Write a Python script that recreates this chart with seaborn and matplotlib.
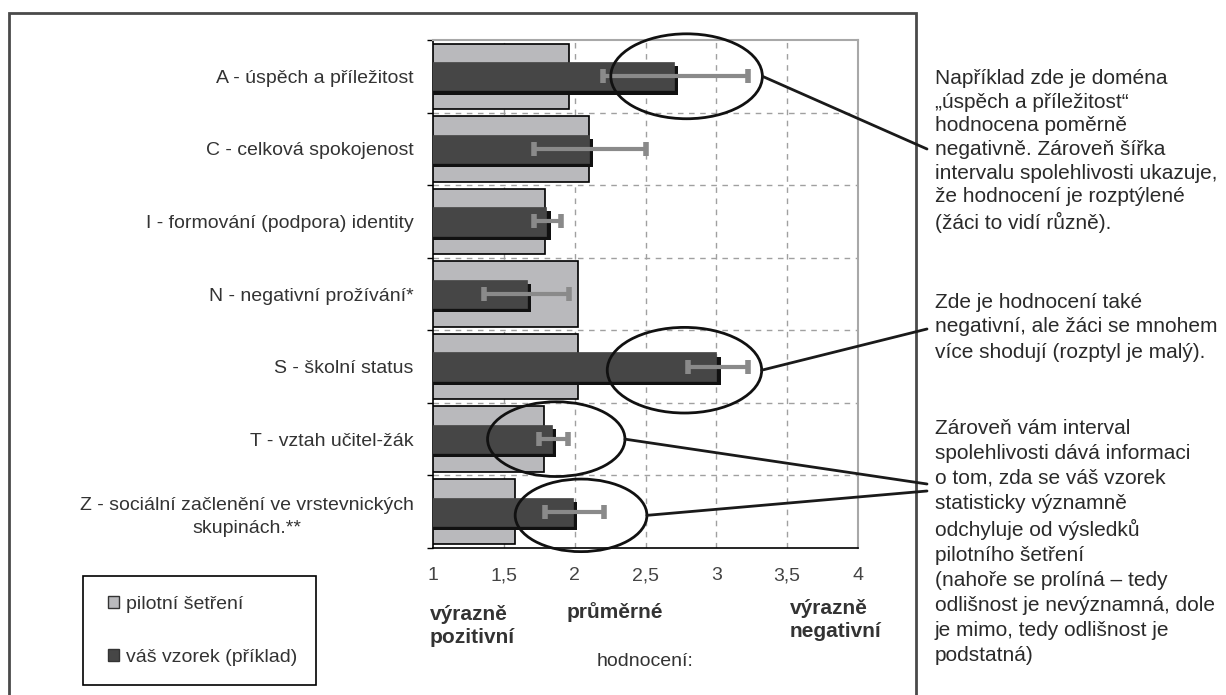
import numpy as np
import matplotlib
matplotlib.use("Agg")
import matplotlib.pyplot as plt
import matplotlib.patheffects as pe
from matplotlib.patches import Ellipse, Rectangle, Patch, ConnectionPatch
from matplotlib.ticker import FixedLocator, FuncFormatter
import seaborn as sns

# values
categories = [
    "A - úspěch a příležitost",
    "C - celková spokojenost",
    "I - formování (podpora) identity",
    "N - negativní prožívání*",
    "S - školní status",
    "T - vztah učitel-žák",
    "Z - sociální začlenění ve vrstevnických\nskupinách.**",
]
pilot = [1.96, 2.10, 1.79, 2.02, 2.02, 1.78, 1.58]
sample = [2.70, 2.10, 1.80, 1.66, 3.00, 1.84, 1.99]
ci_low = [2.20, 1.71, 1.71, 1.36, 2.80, 1.75, 1.79]
ci_high = [3.22, 2.50, 1.90, 1.96, 3.22, 1.95, 2.21]
xticks = [1, 1.5, 2, 2.5, 3, 3.5, 4]
legend_labels = ["pilotní šetření", "váš vzorek (příklad)"]

note_1 = ("Například zde je doména\n„úspěch a příležitost“\nhodnocena poměrně\n"
          "negativně. Zároveň šířka\nintervalu spolehlivosti ukazuje,\n"
          "že hodnocení je rozptýlené\n(žáci to vidí různě).")
note_2 = ("Zde je hodnocení také\nnegativní, ale žáci se mnohem\n"
          "více shodují (rozptyl je malý).")
note_3 = ("Zároveň vám interval\nspolehlivosti dává informaci\no tom, zda se váš vzorek\n"
          "statisticky významně\nodchyluje od výsledků\npilotního šetření\n"
          "(nahoře se prolíná – tedy\nodlišnost je nevýznamná, dole\n"
          "je mimo, tedy odlišnost je\npodstatná)")

light = "#b9b9bc"
dark = "#464646"

sns.set_style("white")
plt.rcParams["font.family"] = ["Liberation Sans", "DejaVu Sans"]

W, H = 1226, 695
fig = plt.figure(figsize=(W / 100, H / 100), dpi=100)


def fx(px):
    return px / W


def fy(py):
    return 1 - py / H


ax = fig.add_axes([fx(433), fy(548), fx(858) - fx(433), fy(40) - fy(548)])

sns.barplot(x=pilot, y=categories, orient="h", width=0.9, color=light,
            edgecolor="black", linewidth=1.2, saturation=1, ax=ax, zorder=2)
sns.barplot(x=sample, y=categories, orient="h", width=0.39, color=dark,
            edgecolor=dark, linewidth=0.5, saturation=1, ax=ax, zorder=3)
for bar in ax.containers[-1]:
    bar.set_path_effects([pe.SimplePatchShadow(offset=(3, -3), shadow_rgbFace="#111111", alpha=1),
                          pe.Normal()])

ypos = np.arange(len(categories))
xerr = [np.array(sample) - np.array(ci_low), np.array(ci_high) - np.array(sample)]
ax.errorbar(sample, ypos, xerr=xerr, fmt="none", ecolor="#8a8a8a", elinewidth=3,
            capsize=5, capthick=4, zorder=4)

ax.set_xlim(1, 4)
ax.set_ylim(len(categories) - 0.5, -0.5)
ax.set_xlabel("")
ax.set_ylabel("")

ax.xaxis.set_major_locator(FixedLocator(xticks))
ax.xaxis.set_major_formatter(FuncFormatter(lambda v, p: f"{v:g}".replace(".", ",")))
ax.tick_params(axis="x", length=4, width=1, color="black", pad=10, labelsize=14,
               labelcolor="#444444")
ax.yaxis.set_minor_locator(FixedLocator(np.arange(-0.5, len(categories), 1)))
ax.tick_params(axis="y", which="major", length=0, pad=14, labelsize=14, labelcolor="#333333")
ax.tick_params(axis="y", which="minor", left=True, length=4, width=1, color="black")
for lbl in ax.get_yticklabels():
    lbl.set_multialignment("center")
    lbl.set_linespacing(1.45)

for v in xticks[1:-1]:
    ax.axvline(v, color="#a0a0a0", lw=1, ls=(0, (4, 4)), zorder=1)
for v in np.arange(0.5, len(categories) - 1, 1):
    ax.axhline(v, color="#a0a0a0", lw=1, ls=(0, (4, 4)), zorder=1)

for side in ["top", "right"]:
    ax.spines[side].set_color("#a8a8a8")
    ax.spines[side].set_linewidth(1.5)
for side in ["left", "bottom"]:
    ax.spines[side].set_color("black")
    ax.spines[side].set_linewidth(1.2)

# ellipses highlighting the commented domains
ellipses = [(2.79, 0.0, 1.07, 1.17), (2.775, 4.05, 1.09, 1.18),
            (1.87, 5.0, 0.97, 1.03), (2.045, 6.05, 0.93, 1.0)]
targets = [(927, 149), (927, 329), (927, 484), (927, 491)]
for (cx, cy, w, h), (tx, ty) in zip(ellipses, targets):
    ax.add_patch(Ellipse((cx, cy), w, h, fill=False, edgecolor="#111111", lw=2,
                         zorder=6, clip_on=False))
    con = ConnectionPatch(xyA=(cx + w / 2, cy), coordsA=ax.transData,
                          xyB=(fx(tx), fy(ty)), coordsB=fig.transFigure,
                          color="#1a1a1a", lw=2, zorder=6)
    fig.add_artist(con)

# scale descriptions under the axis
fig.text(fx(430), fy(626), "výrazně\npozitivní", ha="left", va="center", fontsize=15,
         fontweight="bold", color="#333333", linespacing=1.3)
fig.text(fx(567), fy(612), "průměrné", ha="left", va="center", fontsize=15,
         fontweight="bold", color="#333333")
fig.text(fx(790), fy(620), "výrazně\nnegativní", ha="left", va="center", fontsize=15,
         fontweight="bold", color="#333333", linespacing=1.3)
fig.text(fx(645), fy(662), "hodnocení:", ha="center", va="center", fontsize=14,
         color="#333333")

# legend with its own box
fig.add_artist(Rectangle((fx(83), fy(685)), fx(316) - fx(83), fy(576) - fy(685),
                         transform=fig.transFigure, fill=False, edgecolor="black", lw=1.2))
handles = [Patch(facecolor=light, edgecolor="#333333"), Patch(facecolor=dark, edgecolor="#333333")]
fig.legend(handles, legend_labels, loc="center left", bbox_to_anchor=(fx(90), fy(631)),
           frameon=False, fontsize=14, labelspacing=1.85, handlelength=0.6, handleheight=0.6,
           handletextpad=0.35, labelcolor="#333333")

# outer frame of the chart
fig.add_artist(Rectangle((fx(9), -0.05), fx(916) - fx(9), fy(13) + 0.05,
                         transform=fig.transFigure, fill=False, edgecolor="#4a4a4a", lw=2))

# notes on the right
for txt, yc, ls in [(note_1, 151, 1.31), (note_2, 327, 1.4), (note_3, 542, 1.4)]:
    fig.text(fx(935), fy(yc), txt, ha="left", va="center", fontsize=15,
             color="#2a2a2a", linespacing=ls)

fig.savefig("out.png", dpi=100)
